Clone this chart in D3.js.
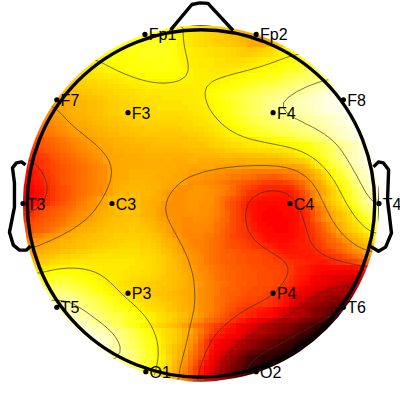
<!DOCTYPE html>
<html>
<head>
<meta charset="utf-8">
<script src="https://cdn.jsdelivr.net/npm/d3@7"></script>
<style>
html, body { margin: 0; padding: 0; background: #fff; }
svg { display: block; }
</style>
</head>
<body>
<div id="figure"></div>
<script>
var w = 400;
var h = 400;

// electrodes, head units (nose up, radius 1 = T3..T4)
var channels = ["Fp1", "Fp2", "F7", "F3", "F4", "F8", "T3", "C3", "C4", "T4", "T5", "P3", "P4", "T6", "O1", "O2"];
var channelX = [-0.315, 0.31, -0.81, -0.41, 0.405, 0.8, -1, -0.5, 0.5, 1, -0.81, -0.41, 0.405, 0.8, -0.31, 0.31];
var channelY = [0.95, 0.95, 0.583, 0.51, 0.51, 0.583, 0, 0, 0, 0, -0.583, -0.504, -0.504, -0.583, -0.945, -0.945];

var noseX = [-0.169, -0.051, -0.006, 0.039, 0.18];
var noseY = [0.977, 1.118, 1.127, 1.124, 0.972];
var leftEarX = [-0.986, -1.008, -1.037, -1.059, -1.048, -1.048, -1.076, -1.054, -1.02, -0.98, -0.958];
var leftEarY = [0.217, 0.234, 0.228, 0.2, 0.115, -0.02, -0.161, -0.234, -0.262, -0.262, -0.239];
var rightEarX = [0.969, 0.997, 1.025, 1.054, 1.048, 1.07, 1.037, 0.997, 0.941];
var rightEarY = [0.206, 0.234, 0.228, 0.189, 0.02, -0.166, -0.245, -0.268, -0.234];

var contourLevels = [12, 27, 42, 57, 72, 88];

// first listed column of each row, the rest of the row is outside the head
var rowStart = [25,22,19,17,15,14,13,11,10,9,8,7,7,6,5,4,4,3,3,2,2,2,1,1,1,0,0,0,0,0,0,0,0,0,0,0,0,0,0,0,0,0,1,1,1,2,2,2,3,3,4,4,5,6,7,7,8,9,10,11,13,14,15,17,19,22,25];

// potential map, top row first
var field = [
[76,76,75,74,73,72,71,70,69,68,67,66,65,64,62,61,60],
[76,76,76,76,76,75,73,72,71,70,69,68,67,66,65,64,63,62,61,60,59,58,57],
[76,76,76,76,76,76,76,76,75,74,72,71,70,69,68,67,66,65,65,64,63,62,61,60,58,57,58,59,61],
[75,75,76,76,76,76,77,77,77,77,75,74,72,71,70,69,68,67,67,66,65,65,64,63,62,60,59,58,59,60,62,64,66],
[73,74,74,75,75,76,76,77,77,77,77,77,76,75,73,72,71,70,70,69,69,68,68,67,67,66,65,64,64,65,66,67,69,70,71,72,73],
[72,73,74,74,75,75,76,76,77,77,77,77,77,76,75,73,72,71,70,70,69,69,68,68,67,67,66,65,65,66,67,68,68,70,71,72,73,74,75],
[72,73,73,74,74,74,75,75,75,76,76,76,76,76,76,75,73,72,71,71,70,70,70,69,69,68,68,68,68,69,69,70,71,71,72,72,73,74,75,75,76],
[70,70,71,72,73,73,73,74,74,74,75,75,75,76,76,76,75,75,74,72,71,71,70,70,70,69,69,69,69,69,70,70,71,71,72,73,73,74,75,76,77,77,78,79,80],
[69,69,70,70,71,72,72,73,73,74,74,74,75,75,75,75,75,75,75,74,73,72,71,71,71,70,70,70,70,70,71,71,72,72,73,74,74,75,76,77,78,79,80,81,82,83,84],
[67,68,68,69,69,70,70,71,71,72,72,73,73,73,74,74,74,74,74,74,74,73,72,71,71,71,71,71,71,72,72,73,73,74,74,75,76,77,77,78,80,81,82,83,84,85,86,86,87],
[65,65,66,66,67,67,68,68,69,70,70,71,71,71,72,72,72,72,72,72,72,72,72,72,71,71,71,72,72,73,73,74,75,75,76,77,78,79,79,80,82,83,84,85,86,86,87,87,88,89,91],
[63,64,64,65,65,66,66,67,67,68,68,69,69,70,70,71,71,71,71,71,71,71,71,71,71,71,71,72,73,73,74,75,75,76,77,78,79,80,81,82,83,84,85,86,87,88,89,89,90,91,92,93,95],
[62,62,63,63,64,64,65,65,66,66,67,67,68,68,69,69,70,70,70,70,70,70,70,70,70,71,71,73,74,75,76,77,78,79,80,81,82,83,84,85,86,87,88,88,89,90,91,92,93,95,96,97,98],
[58,59,60,61,62,62,63,63,64,65,66,66,67,67,68,68,69,69,69,69,70,70,70,70,70,70,71,71,72,74,75,76,78,79,80,81,83,84,85,86,87,88,89,89,90,91,92,93,94,95,96,97,98,98,99],
[55,57,58,59,60,61,61,62,62,63,64,65,65,66,66,67,68,68,68,69,69,69,69,69,69,70,70,70,71,72,73,74,75,76,78,79,81,82,84,85,87,88,89,90,90,91,92,93,94,94,95,96,97,97,98,99,99],
[54,55,57,58,59,60,61,61,62,62,63,64,65,65,66,66,67,67,68,68,68,69,69,69,69,69,69,70,70,71,71,73,74,75,76,78,79,81,82,84,85,87,87,89,89,90,90,91,92,93,94,95,96,97,98,98,99,99,100],
[54,56,57,58,59,60,60,61,62,62,63,64,65,65,66,66,67,67,68,68,68,68,68,68,68,68,68,69,70,70,71,72,74,75,76,78,79,81,82,84,85,86,87,88,89,89,90,91,91,92,93,94,95,96,96,97,98,99,99],
[53,54,55,56,57,58,59,60,60,61,62,62,63,64,64,65,65,66,66,67,67,67,67,67,67,67,67,68,68,69,69,70,71,72,73,75,76,77,79,81,82,83,84,85,86,87,87,88,89,89,90,91,92,93,94,95,96,97,98,98,99],
[52,53,54,55,56,57,58,59,59,60,61,62,62,63,63,64,64,65,65,66,66,66,66,66,66,66,67,67,67,68,69,69,70,71,72,74,75,76,77,79,81,82,83,84,85,85,86,87,88,88,89,90,91,92,93,94,96,97,98,98,99],
[50,51,52,53,54,55,56,57,58,58,59,60,60,61,62,62,63,63,64,64,64,65,65,65,65,65,65,65,66,66,67,67,68,69,70,71,72,73,74,76,77,78,79,80,81,82,83,84,85,86,86,87,88,89,91,92,93,94,95,96,97,98,99],
[49,50,51,52,53,54,55,56,57,57,58,59,60,60,61,61,62,62,63,63,64,64,64,64,64,64,64,64,64,65,65,66,67,68,69,70,71,72,73,74,75,76,77,78,79,80,81,82,83,84,85,85,86,87,88,90,92,94,95,96,97,98,99],
[46,47,49,50,51,52,53,54,55,56,57,57,58,59,59,60,60,61,61,62,62,62,62,63,63,63,63,63,63,64,64,65,65,66,67,68,69,70,70,71,71,71,72,72,73,74,75,76,77,79,80,82,83,85,86,87,89,91,93,95,96,98,99],
[44,46,47,48,49,50,51,52,53,54,55,56,57,58,58,59,60,60,60,61,61,61,61,62,62,62,62,62,62,63,63,63,63,64,65,66,66,67,68,68,69,70,70,71,71,71,72,72,72,73,73,74,75,77,79,81,83,85,87,89,91,93,95,97,98],
[43,44,46,47,48,49,50,51,52,53,54,55,56,57,58,58,59,59,60,60,60,60,61,61,61,61,61,61,61,61,62,62,62,62,63,64,64,65,65,66,66,67,67,68,68,68,69,69,70,70,72,73,74,76,78,80,82,84,87,89,91,93,95,97,98],
[42,43,44,45,47,48,49,50,51,52,53,54,55,56,57,58,58,58,59,59,59,60,60,60,60,60,60,60,60,60,60,61,61,61,61,61,62,62,62,62,62,63,63,63,63,64,64,65,66,67,69,71,73,75,77,79,82,84,87,89,92,94,95,97,98],
[41,41,42,43,44,46,47,48,49,50,51,52,53,54,55,57,58,58,59,59,59,59,59,59,59,59,59,60,59,59,59,60,60,59,59,59,59,59,60,60,59,59,60,60,60,60,60,60,61,62,63,64,65,67,70,72,75,79,82,85,88,91,93,95,96,98,99],
[39,40,41,43,44,45,46,47,48,49,50,51,52,53,54,55,57,58,59,59,59,59,59,59,59,59,59,59,59,58,58,58,58,58,58,58,57,57,57,57,57,57,57,57,57,57,57,57,57,57,57,58,59,62,66,70,73,76,79,82,85,89,91,94,96,97,99],
[38,38,40,41,43,45,46,47,48,49,50,51,52,53,54,55,57,58,59,59,60,60,60,60,60,60,59,59,59,58,58,57,57,57,56,56,55,55,54,54,54,53,53,52,52,52,52,52,52,53,53,54,56,58,61,64,68,72,75,79,82,86,89,92,94,96,98],
[37,38,40,41,43,44,46,47,48,49,50,51,52,53,54,55,57,58,59,59,60,60,60,60,60,59,59,59,58,58,57,56,56,56,55,55,54,54,53,52,52,51,51,50,49,49,48,48,49,50,51,52,54,56,58,62,66,70,74,77,80,84,88,91,93,95,97],
[36,37,39,40,42,44,45,47,48,49,50,51,52,53,54,55,57,59,60,60,61,61,61,60,60,60,59,58,58,58,57,55,55,55,54,54,53,52,51,50,49,48,47,46,45,44,44,44,44,45,46,48,50,53,56,58,62,67,71,75,78,82,86,90,92,94,96],
[35,36,38,39,41,43,45,46,47,49,50,51,52,53,54,55,57,59,60,61,61,61,61,61,60,60,59,58,57,55,55,55,56,56,56,55,54,53,52,50,48,46,45,44,42,41,41,41,41,41,42,45,48,52,55,57,59,64,68,72,76,80,84,88,91,93,96],
[34,35,37,38,41,43,45,46,47,49,50,51,52,53,54,56,58,60,61,61,62,62,61,61,60,59,57,56,55,55,55,56,56,56,55,55,54,53,51,50,47,45,43,42,41,40,39,39,39,39,40,42,45,49,52,56,58,62,66,69,73,77,82,86,89,92,94],
[34,35,37,39,41,43,45,46,48,49,51,52,54,55,57,59,61,61,62,62,62,62,61,60,59,59,58,56,55,55,55,56,56,56,55,55,53,51,49,47,45,43,41,40,39,38,38,38,38,38,39,41,44,48,52,56,60,63,66,69,73,77,81,86,89,92,94],
[35,36,38,40,42,44,46,47,49,50,52,53,55,55,57,59,61,62,62,62,62,62,61,60,59,58,56,55,55,55,55,56,56,55,55,55,53,51,48,46,44,41,39,38,37,37,37,37,37,37,38,40,42,46,50,54,57,61,65,68,71,75,79,84,87,90,93],
[38,39,42,44,46,47,48,49,50,51,53,54,55,56,58,59,61,62,62,62,62,62,61,60,59,57,56,55,55,55,55,56,56,55,55,54,53,51,48,46,44,41,39,38,37,37,36,36,37,37,37,39,41,43,47,51,54,58,62,65,68,72,76,81,85,87,90],
[41,42,44,46,47,48,49,50,52,53,54,55,56,58,59,60,61,62,62,63,63,62,61,60,59,57,56,55,55,55,55,55,55,55,55,54,53,51,49,46,44,42,40,38,37,36,36,36,36,37,37,38,40,42,46,50,53,56,59,62,65,68,72,76,81,85,88],
[43,44,46,47,48,49,50,51,53,54,55,56,57,58,60,61,62,62,63,63,63,63,62,61,60,58,57,56,55,55,54,54,55,55,54,54,52,50,49,46,44,42,41,38,37,36,36,36,36,36,37,38,40,42,46,50,53,56,59,62,64,67,70,73,77,81,85],
[45,46,47,48,49,50,51,52,54,55,56,58,59,60,61,62,63,63,63,64,64,64,63,62,61,59,58,57,55,55,54,54,54,54,54,53,51,50,48,46,44,43,41,39,37,37,36,36,36,36,37,38,40,41,44,47,50,53,56,59,62,65,68,71,74,78,82],
[46,47,48,49,50,52,53,55,56,58,59,60,61,61,62,63,63,64,64,64,65,64,64,63,62,60,59,57,55,55,54,54,54,54,53,53,51,49,47,46,44,43,42,40,38,37,37,36,36,36,37,38,39,41,43,46,49,52,55,58,61,64,66,69,72,75,79],
[49,50,52,53,55,56,57,58,59,60,61,62,62,63,63,64,64,65,65,65,65,65,65,64,63,62,60,58,56,56,54,53,53,53,52,52,50,49,47,45,44,43,42,41,39,38,37,37,37,37,37,38,39,41,42,45,47,49,52,55,57,60,62,65,68,71,75],
[52,53,55,56,57,58,59,60,60,61,62,62,63,63,64,64,65,65,65,66,66,66,65,65,64,63,61,60,58,56,55,53,53,53,52,51,50,49,47,46,45,44,43,42,41,39,38,38,37,37,38,39,39,41,42,44,46,49,50,52,55,57,60,62,65,68,71],
[54,55,57,58,59,60,60,61,62,62,63,63,64,65,65,66,66,66,67,67,67,67,66,66,65,64,62,61,59,57,55,54,53,53,52,51,50,49,47,46,46,45,44,43,42,41,40,39,38,38,39,39,40,40,41,43,45,47,48,50,52,54,57,59,61,63,66],
[57,59,60,61,62,62,63,63,64,65,65,66,67,67,67,68,68,68,68,68,68,67,67,66,65,63,62,60,58,56,55,54,53,52,51,50,49,48,48,47,46,46,45,45,44,43,41,40,39,39,39,39,40,40,41,43,44,46,48,50,52,54,56,58,60],
[59,61,62,63,64,65,66,66,67,67,68,68,69,69,69,69,69,69,69,69,69,68,68,67,66,65,63,61,60,58,56,55,54,52,51,50,49,49,48,47,47,46,46,46,45,44,43,42,41,40,40,39,39,39,40,41,42,43,44,46,48,50,52,54,55],
[62,64,65,66,68,68,69,69,70,70,70,70,70,70,70,70,70,70,70,70,69,69,68,67,66,65,63,62,60,58,56,55,54,52,51,50,49,48,48,47,47,46,46,46,45,45,44,44,43,42,41,41,40,40,39,39,40,41,42,43,44,45,47,48,50],
[67,68,70,71,72,72,72,72,72,72,71,71,71,70,70,70,70,70,69,69,69,68,67,66,65,63,62,60,59,57,56,54,53,52,51,50,49,48,48,47,47,46,46,46,45,45,45,44,43,41,40,39,38,37,37,37,37,37,37,37,38,39,40],
[71,72,73,74,74,74,74,74,74,73,72,71,71,70,70,70,70,69,69,69,68,68,67,66,65,63,62,61,59,58,56,55,54,52,51,50,49,49,48,47,47,47,46,46,46,45,45,44,43,41,40,39,38,37,36,35,35,34,34,34,34,35,35],
[74,75,76,77,78,78,78,77,76,75,74,73,72,71,71,70,70,69,68,68,67,67,66,65,64,63,62,61,60,58,56,55,54,53,51,50,49,49,48,47,47,47,46,46,46,45,45,44,42,40,39,38,36,35,34,33,32,31,31,30,29,29,29],
[78,79,80,81,81,80,79,78,77,76,75,73,72,71,70,69,68,68,67,66,65,65,64,64,63,62,61,60,58,57,56,54,53,52,51,50,49,48,48,47,47,46,46,46,45,45,43,41,39,38,37,35,34,33,32,31,30,29,28,27,27],
[81,82,83,84,84,83,82,81,79,78,76,75,73,72,71,70,69,68,67,66,65,65,64,63,63,62,61,60,58,57,55,54,53,52,50,49,49,48,47,47,46,46,45,45,44,43,41,39,37,36,34,33,31,30,29,28,27,25,24,24,24],
[85,86,86,87,87,85,83,82,80,78,77,75,73,72,70,69,68,67,66,65,64,63,63,62,61,60,59,58,57,55,54,53,52,50,49,48,48,47,46,46,46,45,44,43,42,39,37,35,34,32,30,28,27,25,24,23,23,22,21],
[87,88,89,89,89,88,87,85,83,82,80,78,76,74,73,72,70,69,68,67,66,65,64,63,62,61,60,58,57,55,54,53,51,50,49,48,47,46,45,45,44,44,43,41,40,38,35,32,30,28,26,24,23,21,20,19,18,17,16],
[90,91,91,90,89,87,86,84,83,81,79,78,76,75,73,72,71,69,68,67,66,65,64,62,61,60,58,57,55,54,53,51,50,48,47,46,45,44,44,43,43,42,41,39,37,33,30,28,25,23,21,20,18,16,15,13,12],
[93,93,92,91,90,88,86,85,83,82,80,78,77,76,74,72,71,69,68,67,66,64,63,61,60,59,57,55,54,53,51,49,47,46,44,43,42,41,40,39,38,36,34,31,28,27,25,23,20,18,17,15,13,11,10],
[94,93,92,91,90,89,87,86,84,82,81,80,78,77,75,74,72,71,69,68,66,65,63,62,59,58,56,54,52,50,48,46,44,43,42,41,40,38,37,37,35,32,30,28,26,25,23,20,18,16,14,12,10],
[96,95,94,93,92,90,88,87,85,83,82,80,78,77,76,75,72,71,69,68,66,64,62,61,58,56,54,51,50,48,46,44,42,40,39,37,36,34,32,30,28,26,24,23,21,19,17,15,13,11,9,7,5],
[97,96,95,94,93,91,90,88,86,84,82,79,77,75,72,71,69,67,66,64,62,60,57,54,52,50,48,46,44,42,40,38,36,35,33,31,28,26,25,23,21,20,18,16,14,13,10,8,6,4,3],
[98,97,96,95,94,92,91,89,88,86,84,82,79,77,75,73,71,69,67,65,63,60,58,55,52,48,45,42,40,38,37,35,33,31,29,27,25,23,21,19,18,16,13,11,10,8,6,5,4],
[99,98,97,96,95,93,91,88,86,84,82,80,78,76,73,72,69,67,65,63,60,57,54,50,46,42,39,38,36,35,33,30,27,25,22,21,19,18,16,14,13,10,8,6,5,4,3],
[99,98,98,96,95,93,91,88,86,84,82,79,77,75,72,70,68,65,63,59,56,53,48,43,39,37,35,33,31,28,26,23,21,19,17,15,14,12,10,9,7,5,4,3,3],
[98,96,94,92,90,88,86,85,82,80,77,75,72,69,66,63,61,58,55,51,47,43,39,36,34,32,29,26,23,21,19,17,15,13,12,10,8,7,5,4,3],
[98,96,94,92,90,88,86,84,81,78,76,72,70,66,63,60,57,53,50,46,42,37,34,31,28,25,22,19,15,13,11,10,9,7,6,5,4,3,3],
[95,93,92,90,88,86,84,82,79,76,73,71,67,63,60,56,52,49,45,40,36,32,28,25,21,18,15,12,10,9,7,6,5,4,3,2,2],
[91,89,87,85,83,80,78,75,72,70,66,62,58,55,51,47,42,38,34,30,26,23,19,16,13,10,8,7,5,4,3,3,2],
[86,84,82,80,77,74,72,69,65,61,57,53,49,44,40,36,32,28,24,20,17,14,11,8,6,5,4,3,2],
[78,76,74,72,69,64,60,56,52,48,44,39,35,31,27,23,20,16,13,10,8,6,4],
[72,68,64,60,55,51,47,43,39,34,30,26,23,19,15,12,9]
];

// hot style ramp
var color = d3.scaleLinear()
	.domain([0, 36, 57, 74, 100])
	.range(["#000000", "#ff0000", "#ffa000", "#ffff00", "#ffffff"])
	.clamp(true);

var cx = 201;
var cy = 203.5;
var radius = 178;

var xScale = d3.scaleLinear().domain([-1, 1]).range([cx - radius, cx + radius]);
var yScale = d3.scaleLinear().domain([-1, 1]).range([cy + radius, cy - radius]);

var n = field.length;
var colBand = d3.scaleBand().domain(d3.range(n)).range([cx - radius, cx + radius]);
var rowBand = d3.scaleBand().domain(d3.range(n)).range([cy - radius, cy + radius]);

// carry the edge value of each row out to the full width
var grid = field.map(function(row, r){
	return d3.range(n).map(function(c){
		var i = Math.max(0, Math.min(row.length - 1, c - rowStart[r]));
		return row[i];
	});
});

var svg = d3.select('#figure')
	.append('svg')
	.attr('width', w)
	.attr('height', h);

svg.append('defs')
	.append('clipPath')
	.attr('id', 'disc')
	.append('circle')
	.attr('cx', xScale(0))
	.attr('cy', yScale(0))
	.attr('r', radius);

// Map cells
var map = svg.append('g').attr('clip-path', 'url(#disc)');

grid.forEach(function(row, r){
	map.append('g')
		.selectAll('rect')
		.data(row)
		.enter()
		.append('rect')
		.attr('x', function(d, i){ return colBand(i); })
		.attr('y', rowBand(r))
		.attr('width', colBand.bandwidth())
		.attr('height', rowBand.bandwidth())
		.attr('shape-rendering', 'crispEdges')
		.attr('fill', function(d){ return color(d); });
});

// Contours
var contourX = d3.scaleLinear().domain([0, n]).range([cx - radius, cx + radius]);
var contourY = d3.scaleLinear().domain([0, n]).range([cy - radius, cy + radius]);
var contourPath = d3.geoPath(d3.geoTransform({
	point: function(x, y){
		this.stream.point(contourX(x), contourY(y));
	}
}));

var smooth = d3.blur2({data: Float64Array.from(d3.merge(grid)), width: n, height: n}, 1.5);

var contours = d3.contours()
	.size([n, n])
	.thresholds(contourLevels)(Array.from(smooth.data));

map.append('g')
	.selectAll('path')
	.data(contours)
	.enter()
	.append('path')
	.attr('d', contourPath)
	.attr('fill', 'none')
	.attr('stroke', '#333')
	.attr('stroke-opacity', 0.85)
	.attr('stroke-width', 0.8);

// Head outline
var outline = d3.line()
	.x(function(d){ return xScale(d[0]); })
	.y(function(d){ return yScale(d[1]); });

var head = svg.append('g')
	.attr('fill', 'none')
	.attr('stroke', '#000')
	.attr('stroke-width', 3.4)
	.attr('stroke-linejoin', 'round');

head.append('circle')
	.attr('cx', xScale(0))
	.attr('cy', yScale(0))
	.attr('r', radius * 0.976);

[[noseX, noseY], [leftEarX, leftEarY], [rightEarX, rightEarY]].forEach(function(part){
	head.append('path').attr('d', outline(d3.zip(part[0], part[1])));
});

// Electrodes
var marks = svg.append('g');

marks.selectAll('circle')
	.data(channels)
	.enter()
	.append('circle')
	.attr('cx', function(d, i){ return xScale(channelX[i]); })
	.attr('cy', function(d, i){ return yScale(channelY[i]); })
	.attr('r', 2.6)
	.attr('fill', '#000');

marks.selectAll('text')
	.data(channels)
	.enter()
	.append('text')
	.text(function(d){ return d; })
	.attr('x', function(d, i){ return xScale(channelX[i]) + 3.8; })
	.attr('y', function(d, i){ return yScale(channelY[i]) + 6; })
	.attr('font-family', 'Liberation Sans, Arial, sans-serif')
	.attr('font-size', 16)
	.attr('fill', '#000');
</script>
</body>
</html>
